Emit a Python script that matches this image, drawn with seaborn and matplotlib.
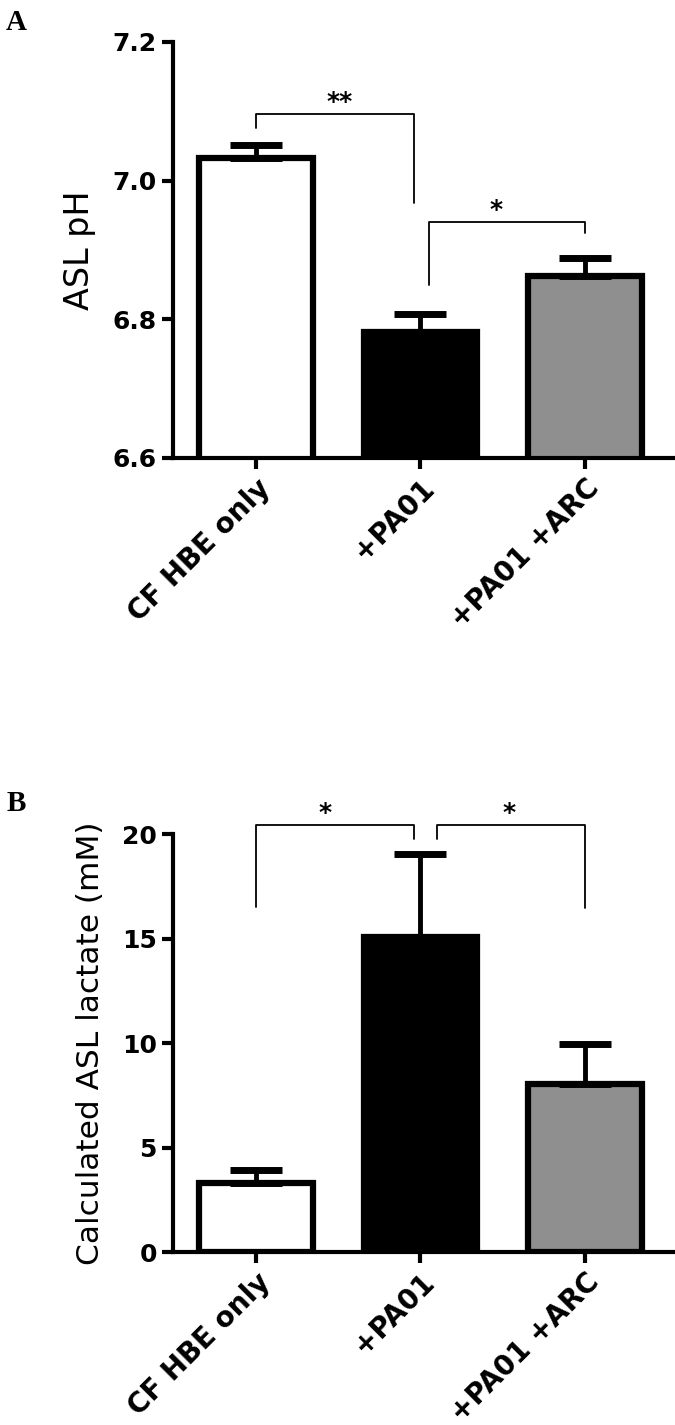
import numpy as np
import pandas as pd
import seaborn as sns
import matplotlib.pyplot as plt

# dados
groups = ["CF HBE only", "+PA01", "+PA01 +ARC"]
ph_mean = [7.033, 6.781, 6.863]
ph_sem = [0.019, 0.026, 0.026]
lactate_mean = [3.3, 15.07, 8.04]
lactate_sem = [0.62, 3.97, 1.91]
bar_colors = ["white", "black", "#8f8f8f"]

# colchetes de significância: (x1, x2, y topo, fim esquerdo, fim direito, texto, x do texto)
brackets_a = [(0.0, 0.96, 7.096, 7.076, 6.967, "**", 0.51),
              (1.05, 2.0, 6.940, 6.849, 6.924, "*", 1.46)]
brackets_b = [(0.0, 0.96, 20.43, 16.5, 19.76, "*", 0.42),
              (1.1, 2.0, 20.43, 19.76, 16.46, "*", 1.54)]

sns.set_theme(style="ticks")
plt.rcParams['font.family'] = ['DejaVu Sans']
plt.rcParams['text.color'] = 'black'
plt.rcParams['axes.labelcolor'] = 'black'
plt.rcParams['xtick.color'] = 'black'
plt.rcParams['ytick.color'] = 'black'
plt.rcParams['axes.edgecolor'] = 'black'

fig = plt.figure(figsize=(6.75, 14.25), dpi=100)
ax_a = fig.add_axes([0.256, 0.6786, 0.744, 0.292])
ax_b = fig.add_axes([0.256, 0.1214, 0.744, 0.2933])


def draw_panel(ax, means, sems, ylim, yticks, ylabel, label_size, brackets):
    df = pd.DataFrame({"group": groups, "value": means})
    sns.barplot(data=df, x="group", y="value", hue="group", palette=bar_colors,
                width=0.69, edgecolor="black", linewidth=4.5, legend=False, ax=ax)
    # barras de erro só para cima
    ax.errorbar(range(len(groups)), means, yerr=[np.zeros(len(sems)), sems],
                fmt="none", ecolor="black", elinewidth=3.5, capsize=19, capthick=5,
                zorder=1)
    for x1, x2, y, yl, yr, txt, xt in brackets:
        ax.plot([x1, x1, x2, x2], [yl, y, y, yr], color="black", lw=1.3,
                clip_on=False)
        ax.text(xt, y, txt, ha="center", va="bottom", fontsize=18,
                fontweight="bold")
    ax.set_ylim(*ylim)
    ax.set_xlim(-0.505, 2.547)
    ax.set_yticks(yticks)
    ax.set_xlabel("")
    ax.set_ylabel(ylabel, fontsize=label_size, labelpad=12)
    ax.tick_params(axis="both", width=3, length=8, labelsize=18)
    for lab in ax.get_yticklabels():
        lab.set_fontweight("bold")
    ax.set_xticks(range(len(groups)))
    ax.set_xticklabels(groups, rotation=45, ha="right", rotation_mode="anchor",
                       fontsize=20, fontweight="bold")
    sns.despine(ax=ax)
    ax.spines["left"].set_linewidth(3)
    ax.spines["bottom"].set_linewidth(3)


draw_panel(ax_a, ph_mean, ph_sem, (6.6, 7.2), [6.6, 6.8, 7.0, 7.2], "ASL pH", 24,
           brackets_a)
ax_a.set_yticklabels(["6.6", "6.8", "7.0", "7.2"])
draw_panel(ax_b, lactate_mean, lactate_sem, (0, 20), [0, 5, 10, 15, 20],
           "Calculated ASL lactate (mM)", 22.5, brackets_b)

fig.text(0.008, 0.994, "A", family="Liberation Serif", fontweight="bold",
         fontsize=21, va="top")
fig.text(0.01, 0.4456, "B", family="Liberation Serif", fontweight="bold",
         fontsize=21, va="top")

fig.savefig("out.png", dpi=100)
